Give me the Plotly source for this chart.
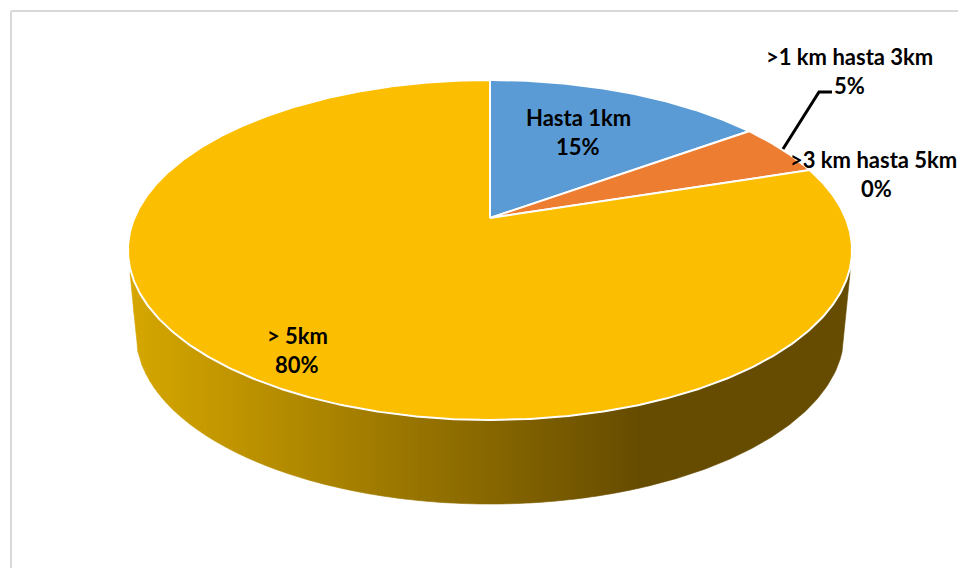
import numpy as np
import plotly.graph_objects as go

# Data
categories = ["Hasta 1km", ">1 km hasta 3km", ">3 km hasta 5km", "> 5km"]
values = [15, 5, 0, 80]
colors = ["#5B9BD5", "#ED7D31", "#A5A5A5", "#FBBE00"]

# Layout of the label pairs (centre x of each line, centre y of first line)
name_x = [578, 849, 873, 297]
value_x = [578, 849, 876, 297]
label_y = [117, 56, 159, 335]
LINE_STEP = 29

# Perspective pie geometry
APEX_X, APEX_Y = 490, 218
CX, CY, K = 355.6, 164.0, 0.188


def project(theta_deg):
    t = np.radians(theta_deg)
    X, Y = np.sin(t), np.cos(t)
    d = 1 + K * Y
    return APEX_X + CX * X / d, APEX_Y - CY * Y / d


fig = go.Figure()

# Side wall: outer rim of the pie and lower rim, filled in vertical strips
EC_X, EC_Y, ER_X, ER_Y = 490, 250, 362, 170
BC_Y, BR_X, BR_Y = 334, 354, 170
EDGE_TOP_Y = 273
EDGE_BOT_Y = 344
LEFT, RIGHT = 130, 850
BOT_L, BOT_R = 137, 843


def top_edge(x):
    u = np.clip((x - EC_X) / ER_X, -1, 1)
    return EC_Y + ER_Y * np.sqrt(1 - u ** 2)


def bottom_edge(x):
    x = np.asarray(x, dtype=float)
    u = np.clip((x - EC_X) / BR_X, -1, 1)
    y = BC_Y + BR_Y * np.sqrt(1 - u ** 2)
    left = x < BOT_L
    right = x > BOT_R
    y = np.where(left, EDGE_TOP_Y + (x - LEFT) / (BOT_L - LEFT) * (EDGE_BOT_Y - EDGE_TOP_Y), y)
    y = np.where(right, EDGE_TOP_Y + (RIGHT - x) / (RIGHT - BOT_R) * (EDGE_BOT_Y - EDGE_TOP_Y), y)
    return y


def side_color(x):
    f = min(max((x - LEFT) / (640 - LEFT), 0), 1)
    c0, c1 = (214, 167, 0), (102, 76, 0)
    r, g, b = [round(a + (b_ - a) * f) for a, b_ in zip(c0, c1)]
    return f"rgb({r},{g},{b})"


edges = list(range(LEFT, 640, 4)) + [640, RIGHT]
for x0, x1 in zip(edges[:-1], edges[1:]):
    xs = np.linspace(x0, x1, max(2, int((x1 - x0) / 2) + 1))
    px = np.concatenate([xs, xs[::-1]])
    py = np.concatenate([top_edge(xs) - 1, bottom_edge(xs)[::-1]])
    col = side_color((x0 + x1) / 2)
    fig.add_trace(go.Scatter(x=px, y=py, mode="lines", fill="toself", fillcolor=col,
                             line=dict(color=col, width=0.6), hoverinfo="skip", showlegend=False))

# Top face slices
total = sum(values)
start = 0.0
for name, val, col in zip(categories, values, colors):
    sweep = val / total * 360
    if val > 0:
        th = np.linspace(start, start + sweep, max(3, int(sweep * 2)))
        ex, ey = project(th)
        fig.add_trace(go.Scatter(x=np.concatenate([[APEX_X], ex, [APEX_X]]),
                                 y=np.concatenate([[APEX_Y], ey, [APEX_Y]]),
                                 mode="lines", fill="toself", fillcolor=col,
                                 line=dict(color="white", width=2), name=name,
                                 text=f"{name}: {val}%", hoverinfo="text", showlegend=False))
    start += sweep

# Leader line for the 5% label
fig.add_trace(go.Scatter(x=[783, 819, 832], y=[149, 92, 92], mode="lines",
                         line=dict(color="black", width=3), hoverinfo="skip", showlegend=False))

annotations = []
for name, val, nx, vx, ly in zip(categories, values, name_x, value_x, label_y):
    for text, xx, yy in ((name, nx, ly), (f"{val}%", vx, ly + LINE_STEP)):
        annotations.append(dict(x=xx, y=yy, xref="x", yref="y", text=f"<b>{text}</b>", showarrow=False,
                                xanchor="center", yanchor="middle",
                                font=dict(family="Lato", size=22, color="black")))

frame = [
    dict(type="line", x0=11, x1=958, y0=11, y1=11, xref="x", yref="y", line=dict(color="#D9D9D9", width=2)),
    dict(type="line", x0=11, x1=11, y0=11, y1=568, xref="x", yref="y", line=dict(color="#D9D9D9", width=2)),
]

fig.update_layout(
    width=958, height=568, margin=dict(l=0, r=0, t=0, b=0),
    paper_bgcolor="white", plot_bgcolor="white", showlegend=False,
    xaxis=dict(range=[0, 958], visible=False, fixedrange=True),
    yaxis=dict(range=[568, 0], visible=False, fixedrange=True),
    annotations=annotations, shapes=frame,
)
fig.write_html("out.html", config={"displayModeBar": False},
               post_script="document.body.style.margin='0';document.body.style.overflow='hidden';")
